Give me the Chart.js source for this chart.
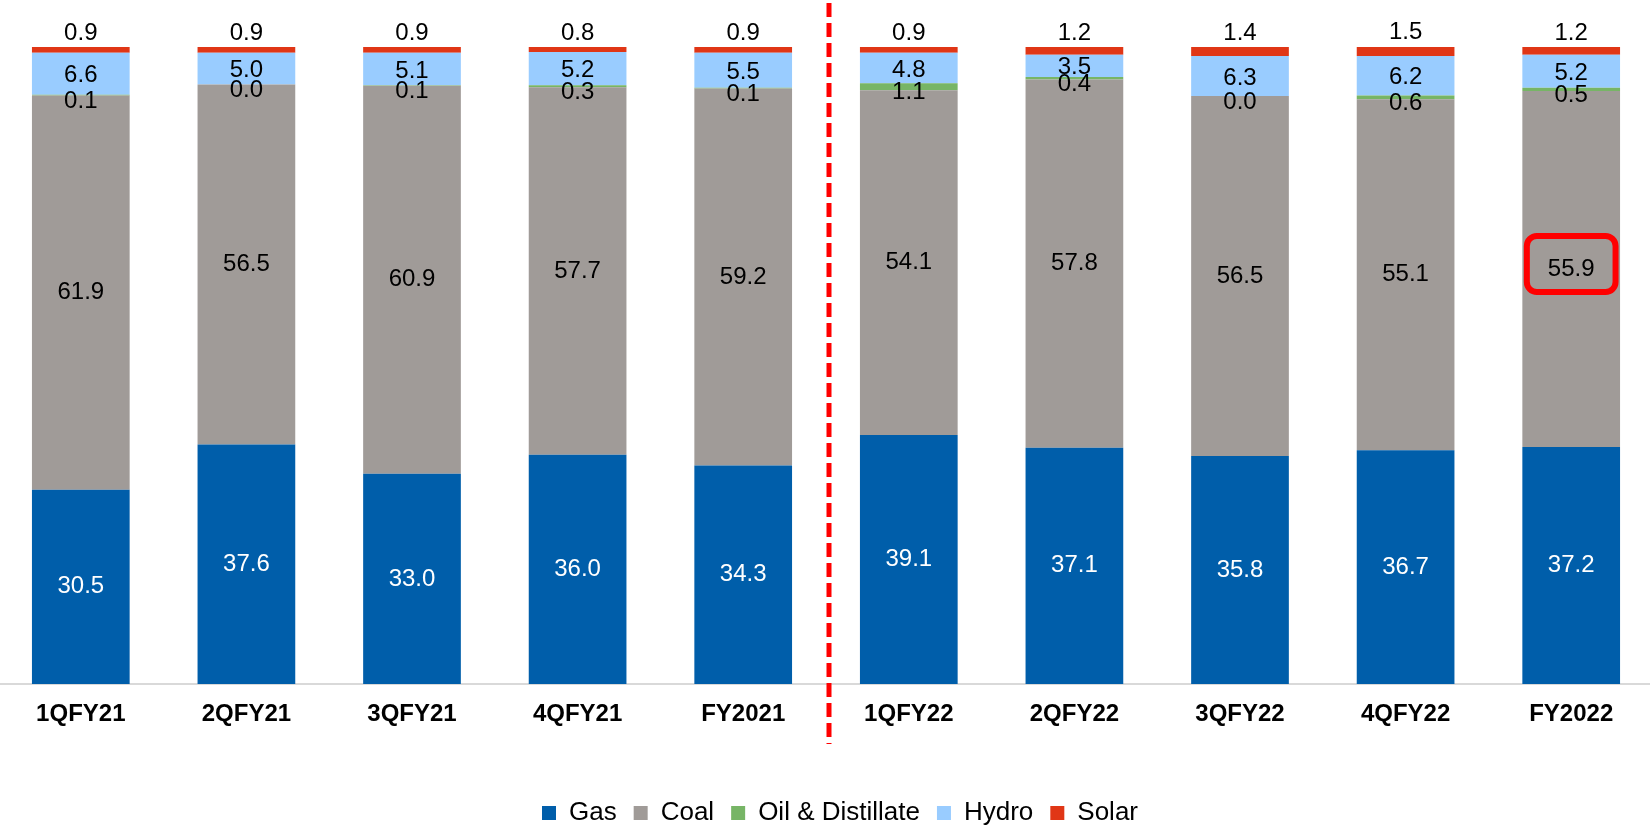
<!DOCTYPE html>
<html>
<head>
<meta charset="utf-8">
<script src="https://cdn.jsdelivr.net/npm/chart.js@4/dist/chart.umd.min.js"></script>
<style>
  body { margin: 0; background: #fff; overflow: hidden; }
  #wrap { width: 1656px; height: 829px; position: relative; left: -2px; }
</style>
</head>
<body>
<div id="wrap"><canvas id="mixChart"></canvas></div>
<script>
// fuel mix share (%) by period
const periods = ['1QFY21', '2QFY21', '3QFY21', '4QFY21', 'FY2021', '1QFY22', '2QFY22', '3QFY22', '4QFY22', 'FY2022'];
const gas   = [30.5, 37.6, 33.0, 36.0, 34.3, 39.1, 37.1, 35.8, 36.7, 37.2];
const coal  = [61.9, 56.5, 60.9, 57.7, 59.2, 54.1, 57.8, 56.5, 55.1, 55.9];
const oil   = [0.1, 0.0, 0.1, 0.3, 0.1, 1.1, 0.4, 0.0, 0.6, 0.5];
const hydro = [6.6, 5.0, 5.1, 5.2, 5.5, 4.8, 3.5, 6.3, 6.2, 5.2];
const solar = [0.9, 0.9, 0.9, 0.8, 0.9, 0.9, 1.2, 1.4, 1.5, 1.2];

Chart.defaults.font.family = '"Liberation Sans", Arial, sans-serif';
Chart.defaults.color = '#000';

// legend sits a little right of centre in the original
const legendShift = {
  id: 'legendShift',
  afterLayout(chart) {
    chart.legend.left += 14;
    chart.legend.right += 14;
  }
};

// draws the value labels, the highlight box and the year divider
const labelPlugin = {
  id: 'labels',
  afterDatasetsDraw(chart) {
    const ctx = chart.ctx;
    ctx.save();
    ctx.font = '24px "Liberation Sans", Arial, sans-serif';
    ctx.textAlign = 'center';
    ctx.textBaseline = 'middle';
    chart.data.datasets.forEach((ds, i) => {
      const meta = chart.getDatasetMeta(i);
      meta.data.forEach((bar, j) => {
        const v = ds.data[j].toFixed(1);
        const mid = (bar.y + bar.base) / 2;
        let y = mid;
        if (i === 2) y = mid + 6;
        if (i === 3) y = mid + 2;
        if (i === 4) y = bar.y - 14;
        ctx.fillStyle = i === 0 ? '#fff' : '#000';
        ctx.fillText(v, bar.x, y);
      });
    });

    // red box round FY2022 coal
    const hl = chart.getDatasetMeta(1).data[9];
    const cy = (hl.y + hl.base) / 2 - 5;
    ctx.strokeStyle = '#ff0000';
    ctx.lineWidth = 6;
    ctx.beginPath();
    ctx.roundRect(hl.x - hl.width / 2 + 4.5, cy - 28, hl.width - 9, 56, 10);
    ctx.stroke();

    // dashed divider between FY21 and FY22
    const xs = chart.scales.x;
    const dx = (xs.getPixelForValue(4) + xs.getPixelForValue(5)) / 2 + 3;
    ctx.setLineDash([14, 6]);
    ctx.lineWidth = 5;
    ctx.beginPath();
    ctx.moveTo(dx, 3);
    ctx.lineTo(dx, 744);
    ctx.stroke();
    ctx.restore();
  }
};

const ctx = document.getElementById('mixChart').getContext('2d');
const mixChart = new Chart(ctx, {
  type: 'bar',
  data: {
    labels: periods,
    datasets: [
      { label: 'Gas', data: gas, backgroundColor: '#005EAA' },
      { label: 'Coal', data: coal, backgroundColor: '#A09B98' },
      { label: 'Oil & Distillate', data: oil, backgroundColor: '#77B566' },
      { label: 'Hydro', data: hydro, backgroundColor: '#99CCFF' },
      { label: 'Solar', data: solar, backgroundColor: '#E03616' }
    ]
  },
  options: {
    responsive: true,
    maintainAspectRatio: false,
    animation: false,
    datasets: {
      bar: { borderWidth: 0, categoryPercentage: 1, barPercentage: 0.59 }
    },
    layout: {
      padding: { top: 47, left: 0, right: 0, bottom: -7 }
    },
    plugins: {
      legend: {
        position: 'bottom',
        labels: {
          boxWidth: 14,
          boxHeight: 14,
          padding: 17,
          font: { size: 26 }
        }
      },
      tooltip: { enabled: false }
    },
    scales: {
      x: {
        stacked: true,
        grid: { display: false, drawTicks: false },
        border: { color: '#d9d9d9', width: 2 },
        ticks: {
          padding: 16,
          font: { size: 24, weight: 'bold' }
        },
        afterFit(axis) {
          axis.height = 99;
        }
      },
      y: {
        stacked: true,
        display: false,
        min: 0,
        max: 100
      }
    }
  },
  plugins: [labelPlugin, legendShift]
});
</script>
</body>
</html>
